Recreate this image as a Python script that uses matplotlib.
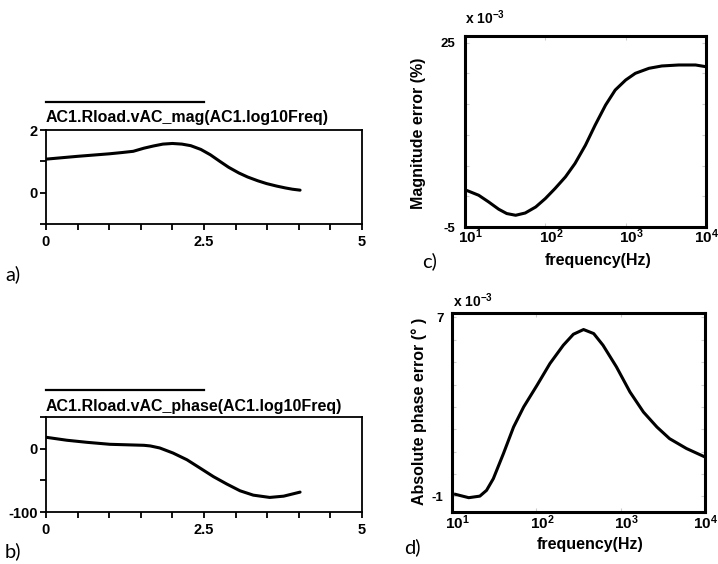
import matplotlib
matplotlib.use("Agg")
import matplotlib.pyplot as plt
import matplotlib.transforms as mtrans
import numpy as np

plt.rcParams['font.family'] = ['Liberation Sans', 'DejaVu Sans']
plt.rcParams['mathtext.fontset'] = 'custom'
plt.rcParams['mathtext.rm'] = 'Liberation Sans'
plt.rcParams['mathtext.bf'] = 'Liberation Sans:bold'
plt.rcParams['mathtext.it'] = 'Liberation Sans:italic'

# ---- data ----
a_x = [0.0, 0.5, 1.0, 1.2, 1.38, 1.55, 1.7, 1.85, 2.0, 2.15, 2.29, 2.45, 2.6, 2.75,
       2.89, 3.05, 3.19, 3.35, 3.49, 3.65, 3.79, 3.9, 4.02]
a_y = [1.07, 1.16, 1.24, 1.28, 1.32, 1.42, 1.49, 1.55, 1.57, 1.55, 1.50, 1.38, 1.21, 1.00,
       0.81, 0.63, 0.50, 0.38, 0.29, 0.21, 0.15, 0.11, 0.08]

b_x = [0.0, 0.33, 0.64, 1.01, 1.38, 1.55, 1.65, 1.80, 2.01, 2.23, 2.44, 2.65, 2.86, 3.07,
       3.28, 3.54, 3.76, 4.02]
b_y = [18.0, 13.3, 10.1, 6.9, 5.8, 5.3, 4.3, 1.1, -6.9, -17.5, -30.8, -44.2, -55.8, -66.5,
       -73.4, -77.0, -75.0, -68.6]

c_freq = [10.9, 14.8, 19.7, 26.3, 33.1, 42.7, 56.2, 75.9, 100, 132, 178, 234, 316, 417,
          562, 741, 1000, 1318, 1950, 2818, 4571, 7413, 10000]
c_err = [0.87, 0.17, -0.92, -2.11, -2.81, -3.09, -2.72, -1.74, -0.37, 1.26, 3.16, 5.34,
         8.33, 11.59, 14.85, 17.30, 18.93, 20.02, 20.84, 21.22, 21.38, 21.38, 21.10]

d_freq = [11, 15.8, 21.4, 25.7, 30.9, 40.7, 53.7, 70.8, 102, 145, 209, 275, 363, 479,
          617, 891, 1288, 1862, 2692, 3802, 6026, 10000]
d_err = [-0.91, -1.06, -0.99, -0.73, -0.21, 0.91, 2.10, 3.00, 3.97, 4.94, 5.76, 6.25,
         6.46, 6.28, 5.76, 4.79, 3.67, 2.77, 2.10, 1.58, 1.14, 0.76]

ab_xticks = [0, 0.5, 1.0, 1.5, 2.0, 2.5, 3.0, 3.5, 4.0, 4.5, 5.0]
ab_xticklabels = ['0', '', '', '', '', '2.5', '', '', '', '', '5']
a_yticks = [-1, 0, 1, 2]
a_yticklabels = ['', '0', '', '2']
b_yticks = [-100, -50, 0, 50]
b_yticklabels = ['-100', '', '0', '']
c_yticks = [-5, 0, 5, 10, 15, 20, 25]
c_yticklabels = ['-5', '', '', '', '', '', '25']
d_yticks = [-1, 0, 1, 2, 3, 4, 5, 6, 7]
d_yticklabels = ['-1', '', '', '', '', '', '', '', '7']
log_ticks = [10, 100, 1000, 10000]
log_ticklabels = [r'$\mathbf{10^{1}}$', r'$\mathbf{10^{2}}$', r'$\mathbf{10^{3}}$',
                  r'$\mathbf{10^{4}}$']

W, H = 718, 564
fig = plt.figure(figsize=(W / 100, H / 100), dpi=100)


def px_axes(l, t, r, b):
    return fig.add_axes([l / W, 1 - b / H, (r - l) / W, (b - t) / H])


def style_ab(ax, yticks, ylabels, ylim, title, ytitle, yline):
    ax.set_xlim(0, 5)
    ax.set_ylim(*ylim)
    ax.set_xticks(ab_xticks)
    ax.set_xticklabels(ab_xticklabels)
    ax.set_yticks(yticks)
    ax.set_yticklabels(ylabels)
    for s in ax.spines.values():
        s.set_linewidth(1.3)
    ax.tick_params(direction='out', length=4, width=1.3, labelsize=10.5, pad=2)
    ax.tick_params(axis='x', pad=4)
    for lab in ax.get_xticklabels() + ax.get_yticklabels():
        lab.set_fontweight('bold')
    ax.text(0, ytitle, title, transform=ax.transAxes, ha='left', va='center',
            fontsize=11.5, fontweight='bold')
    ax.plot([0, 2.5], [yline, yline], transform=ax.get_xaxis_transform(),
            color='black', lw=1.6, clip_on=False)


# a)
axa = px_axes(46, 130, 362, 224)
axa.plot(a_x, a_y, color='black', lw=2.2, solid_capstyle='round', solid_joinstyle='round')
style_ab(axa, a_yticks, a_yticklabels, (-1, 2),
         'AC1.Rload.vAC_mag(AC1.log10Freq)', 1.133, 1.298)

# b)
axb = px_axes(46, 417, 362, 512)
axb.plot(b_x, b_y, color='black', lw=2.2, solid_capstyle='round', solid_joinstyle='round')
style_ab(axb, b_yticks, b_yticklabels, (-100, 50),
         'AC1.Rload.vAC_phase(AC1.log10Freq)', 1.11, 1.28)


def style_cd(ax, yticks, ylabels, ylim, xpad, ypad):
    ax.set_xscale('log')
    ax.set_xlim(10, 10000)
    ax.set_ylim(*ylim)
    ax.set_xticks(log_ticks)
    ax.set_xticklabels(log_ticklabels)
    ax.xaxis.set_minor_locator(matplotlib.ticker.NullLocator())
    ax.set_yticks(yticks)
    ax.set_yticklabels(ylabels)
    for s in ax.spines.values():
        s.set_linewidth(2.2)
    ax.tick_params(axis='y', direction='in', length=3, width=0.8, color='0.8',
                   left=True, right=True, labelsize=9.5, pad=ypad)
    ax.tick_params(axis='x', direction='in', length=3, width=0.8, color='0.8',
                   top=True, bottom=True, labelsize=11, pad=xpad)
    for lab in ax.get_yticklabels():
        lab.set_fontweight('bold')
    shift = mtrans.ScaledTranslation(4 / 72, 0, fig.dpi_scale_trans)
    for lab in ax.get_xticklabels()[:-1]:
        lab.set_transform(lab.get_transform() + shift)


# c)
axc = px_axes(465, 36, 706, 227)
axc.plot(c_freq, c_err, color='black', lw=2.2, solid_joinstyle='round')
style_cd(axc, c_yticks, c_yticklabels, (-5, 26.1), 0, 7)

# d)
axd = px_axes(452, 313, 705, 512)
axd.plot(d_freq, d_err, color='black', lw=2.2, solid_joinstyle='round')
style_cd(axd, d_yticks, d_yticklabels, (-1.7, 7.2), 1, 6)


def ftext(x, y, s, **kw):
    fig.text(x / W, 1 - y / H, s, **kw)


ftext(598, 261, 'frequency(Hz)', ha='center', va='center', fontsize=11.5, fontweight='bold')
ftext(590, 545, 'frequency(Hz)', ha='center', va='center', fontsize=11.5, fontweight='bold')
ftext(418, 133, 'Magnitude error (%)', ha='center', va='center', rotation=90,
      fontsize=11.5, fontweight='bold')
ftext(419, 411, 'Absolute phase error (° )', ha='center', va='center', rotation=90,
      fontsize=11.5, fontweight='bold')
ftext(465, 18, r'$\mathbf{x\ 10^{-3}}$', ha='left', va='center', fontsize=10)
ftext(453, 301, r'$\mathbf{x\ 10^{-3}}$', ha='left', va='center', fontsize=10)

for lab, x, y in [('a)', 5, 274), ('b)', 5, 551), ('c)', 422, 261), ('d)', 404, 547)]:
    ftext(x, y, lab, ha='left', va='center', fontsize=14.5, family=['Lato', 'DejaVu Sans'])

fig.savefig('out.png', dpi=100)
